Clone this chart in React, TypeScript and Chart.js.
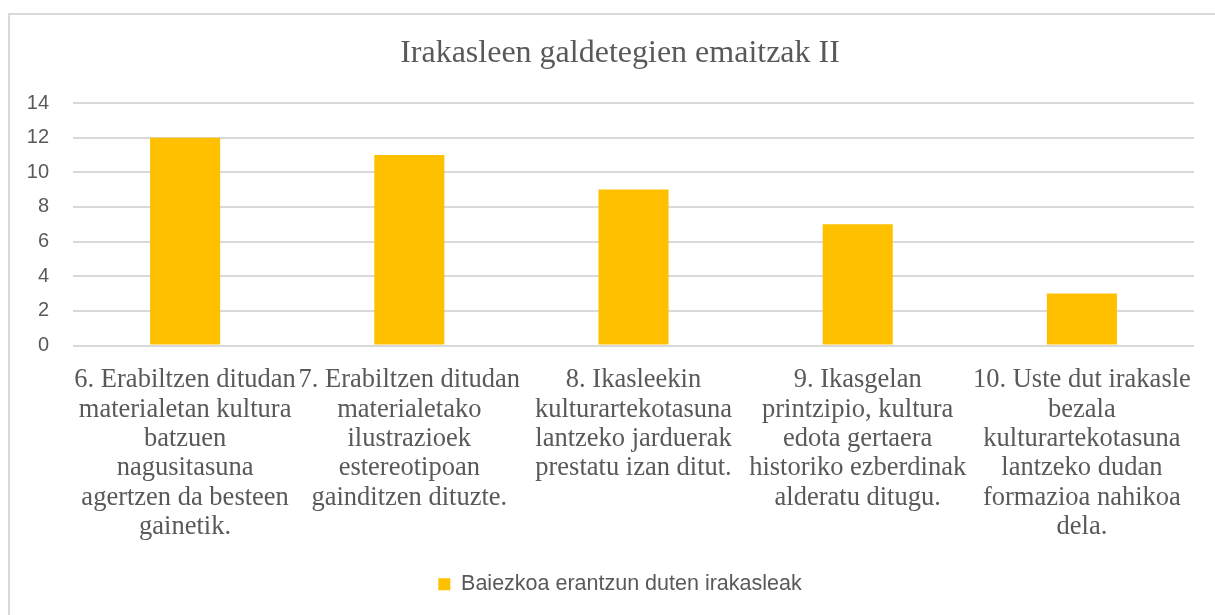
import React, { useEffect, useRef } from "react";
import { Chart, registerables } from "chart.js";

Chart.register(...registerables);

const chartTitle = "Irakasleen galdetegien emaitzak II";
const seriesName = "Baiezkoa erantzun duten irakasleak";
const categories: string[][] = [
  ["6. Erabiltzen ditudan", "materialetan kultura", "batzuen", "nagusitasuna", "agertzen da besteen", "gainetik."],
  ["7. Erabiltzen ditudan", "materialetako", "ilustrazioek", "estereotipoan", "gainditzen dituzte."],
  ["8. Ikasleekin", "kulturartekotasuna", "lantzeko jarduerak", "prestatu izan ditut."],
  ["9. Ikasgelan", "printzipio, kultura", "edota gertaera", "historiko ezberdinak", "alderatu ditugu."],
  ["10. Uste dut irakasle", "bezala", "kulturartekotasuna", "lantzeko dudan", "formazioa nahikoa", "dela."],
];
const values = [12, 11, 9, 7, 3];
const yMin = 0;
const yMax = 14;
const yStep = 2;

const TEXT = "#595959";
const GRID = "#D9D9D9";
const BAR = "#FFC000";

export default function App() {
  const ref = useRef<HTMLCanvasElement>(null);

  useEffect(() => {
    if (!ref.current) return;
    const chart = new Chart(ref.current, {
      type: "bar",
      data: {
        labels: categories,
        datasets: [
          {
            label: seriesName,
            data: values,
            backgroundColor: BAR,
            borderWidth: 0,
            categoryPercentage: 1,
            barPercentage: 0.3125,
            yAxisID: "y",
          },
        ],
      },
      options: {
        responsive: false,
        animation: false,
        devicePixelRatio: 1,
        layout: { padding: { top: 0, left: 0, right: 0, bottom: 10 } },
        plugins: {
          title: {
            display: true,
            text: chartTitle,
            color: TEXT,
            font: { family: "'Liberation Serif', 'Times New Roman', serif", size: 32, weight: "normal", lineHeight: 1.2 },
            padding: { top: 21, bottom: 30.6 },
          },
          legend: {
            display: true,
            position: "bottom",
            labels: {
              color: TEXT,
              boxWidth: 12,
              boxHeight: 12,
              padding: 10,
              font: { family: "'Liberation Sans', Arial, sans-serif", size: 21.5 },
            },
          },
          tooltip: { enabled: false },
        },
        scales: {
          x: {
            grid: { display: false, drawTicks: false },
            border: { display: false },
            ticks: {
              color: TEXT,
              autoSkip: false,
              maxRotation: 0,
              minRotation: 0,
              padding: 20,
              font: { family: "'Liberation Serif', 'Times New Roman', serif", size: 26.5, lineHeight: 1.11 },
            },
            afterFit: (s: any) => {
              s.height = 218;
            },
          },
          y: {
            position: "left",
            min: yMin,
            max: yMax,
            grid: { color: GRID, lineWidth: 2, drawTicks: false },
            border: { display: false },
            ticks: {
              stepSize: yStep,
              color: TEXT,
              padding: 24,
              font: { family: "'Liberation Sans', Arial, sans-serif", size: 20 },
            },
            afterFit: (s: any) => {
              s.width = 65;
            },
          },
          y2: {
            type: "linear",
            position: "right",
            display: true,
            grid: { display: false, drawTicks: false },
            border: { display: false },
            ticks: { display: false },
            afterFit: (s: any) => {
              s.width = 38;
            },
          },
        },
      },
    });
    return () => chart.destroy();
  }, []);

  return (
    <div
      style={{
        position: "absolute",
        left: 8,
        top: 13,
        width: 1207,
        height: 602,
        overflow: "hidden",
        background: "#ffffff",
      }}
    >
      <div
        style={{
          position: "absolute",
          left: 0,
          top: 0,
          width: 1224,
          height: 660,
          border: `2px solid ${GRID}`,
          boxSizing: "border-box",
        }}
      />
      <canvas ref={ref} width={1224} height={602} style={{ position: "absolute", left: 0, top: 0 }} />
    </div>
  );
}
